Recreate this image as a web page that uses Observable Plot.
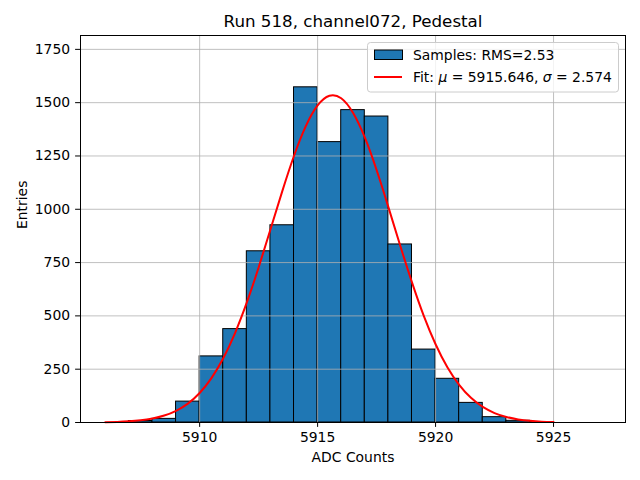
<!DOCTYPE html>
<html><head><meta charset="utf-8">
<script src="https://cdn.jsdelivr.net/npm/d3@7"></script>
<script src="https://cdn.jsdelivr.net/npm/@observablehq/plot@0.6"></script>
<style>body{margin:0;background:#fff}</style>
</head><body><div id="chart"></div>
<script>
const title = "Run 518, channel072, Pedestal";
const xLabel = "ADC Counts";
const yLabel = "Entries";
const binStarts = [5906,5907,5908,5909,5910,5911,5912,5913,5914,5915,5916,5917,5918,5919,5920,5921,5922,5923,5924,5925,5926];
const counts    = [0,7,17,98,310,438,803,925,1572,1315,1465,1435,835,342,205,92,25,8,2,0,0];
const binWidth = 1;
const fitX = [5906,5906.5,5907,5907.5,5908,5908.5,5909,5909.5,5910,5910.5,5911,5911.5,5912,5912.5,5913,5913.5,5914,5914.5,5915,5915.5,5916,5916.5,5917,5917.5,5918,5918.5,5919,5919.5,5920,5920.5,5921,5921.5,5922,5922.5,5923,5923.5,5924,5924.5,5925];
const fitY = [1.4,2.8,5.5,10.3,18.6,32.5,54.8,88.7,138.5,208,301,419.5,563,727,905,1084,1251,1390,1487,1532.5,1520.6,1452.7,1336.7,1184,1010,830,657,500,367,259,176.5,115.6,72.9,44.3,25.9,14.6,7.9,4.1,2.1];
const xTicks = [5910,5915,5920,5925];
const yTicks = [0,250,500,750,1000,1250,1500,1750];
const legendLabels = ["Samples: RMS=2.53", "Fit: μ = 5915.646, σ = 2.574"];

const bins = binStarts.map((x0, i) => ({x0, x1: x0 + binWidth, n: counts[i]})).filter(d => d.n > 0);
const fit = fitX.map((x, i) => ({x, y: fitY[i]}));

const chart = Plot.plot({
  width: 640, height: 480,
  marginLeft: 80, marginRight: 15, marginTop: 35, marginBottom: 58,
  style: {fontFamily: "DejaVu Sans", fontSize: "13.9px", background: "white", color: "black"},
  x: {domain: [5904.95, 5928.05]},
  y: {domain: [0, 1815]},
  marks: [
    Plot.rect(bins, {x1: "x0", x2: "x1", y1: 0, y2: "n", fill: "#1f77b4", stroke: "black", strokeWidth: 1}),
    Plot.gridX(xTicks, {stroke: "#b0b0b0", strokeOpacity: 1, strokeWidth: 0.8}),
    Plot.gridY(yTicks, {stroke: "#b0b0b0", strokeOpacity: 1, strokeWidth: 0.8}),
    Plot.line(fit, {x: "x", y: "y", stroke: "red", strokeWidth: 2, curve: "natural"}),
    Plot.frame({stroke: "black", strokeWidth: 1}),
    Plot.axisX(xTicks, {tickSize: 4.9, tickPadding: 4.9, label: null, fontSize: 13.9, tickFormat: d3.format("d")}),
    Plot.axisY(yTicks, {tickSize: 4.9, tickPadding: 5.5, label: null, fontSize: 13.9, tickFormat: d3.format("d")}),
    Plot.text([title], {frameAnchor: "top", dy: -8.3, lineAnchor: "bottom", fontSize: 16.7}),
    Plot.text([xLabel], {frameAnchor: "bottom", dy: 35, lineAnchor: "middle", fontSize: 13.9}),
    Plot.text([yLabel], {frameAnchor: "left", dx: -58, rotate: -90, lineAnchor: "middle", fontSize: 13.9})
  ]
});
document.getElementById("chart").appendChild(chart);

// legend
const svg = d3.select(chart);
const lg = svg.append("g").attr("font-family", "DejaVu Sans").attr("font-size", "13.9px").attr("text-anchor", "start");
lg.append("rect").attr("x", 367.5).attr("y", 42.5).attr("width", 251).attr("height", 49.5)
  .attr("rx", 3).attr("fill", "white").attr("fill-opacity", 0.8).attr("stroke", "#cccccc").attr("stroke-width", 1);
lg.append("rect").attr("x", 374.5).attr("y", 50).attr("width", 28).attr("height", 9.5)
  .attr("fill", "#1f77b4").attr("stroke", "black").attr("stroke-width", 1);
lg.append("text").attr("x", 413).attr("y", 59.5).attr("text-anchor", "start").text(legendLabels[0]);
lg.append("line").attr("x1", 374).attr("x2", 402).attr("y1", 77).attr("y2", 77)
  .attr("stroke", "red").attr("stroke-width", 2);
const t2 = lg.append("text").attr("x", 413).attr("y", 82).attr("text-anchor", "start");
t2.append("tspan").text("Fit: ");
t2.append("tspan").attr("font-style", "italic").text("μ");
t2.append("tspan").text(" = 5915.646, ");
t2.append("tspan").attr("font-style", "italic").text("σ");
t2.append("tspan").text(" = 2.574");
</script>
</body></html>
